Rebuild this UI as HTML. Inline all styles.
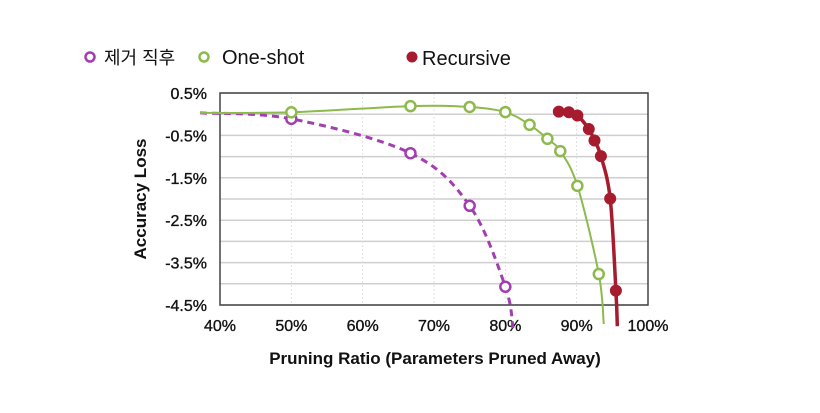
<!DOCTYPE html>
<html><head><meta charset="utf-8"><style>
body{margin:0;background:#fff;}
svg text{font-family:"Liberation Sans","Noto Sans CJK KR",sans-serif;}
</style></head><body>
<svg id="chart" width="820" height="408" viewBox="0 0 820 408" xmlns="http://www.w3.org/2000/svg">
<g id="grid"></g>
<g id="axes"></g>
<g id="series"></g>
<g id="legend">
  <circle cx="90" cy="57" r="4.5" fill="#fff" stroke="#a23fb0" stroke-width="2.5"/>
  <text x="104" y="64" font-size="18" fill="#111">제거 직후</text>
  <circle cx="204" cy="57" r="4.5" fill="#fff" stroke="#8dba4c" stroke-width="2.5"/>
  <text x="222" y="64" font-size="20" fill="#111">One-shot</text>
  <circle cx="412" cy="57" r="5.5" fill="#a61c2e"/>
  <text x="422" y="65" font-size="20" fill="#111">Recursive</text>
</g>
<text x="435" y="364" font-size="17" font-weight="bold" text-anchor="middle" fill="#111">Pruning Ratio (Parameters Pruned Away)</text>
<text transform="translate(146,199) rotate(-90)" font-size="17" font-weight="bold" text-anchor="middle" fill="#111">Accuracy Loss</text>
</svg>
<script>
const xTicks=[40,50,60,70,80,90,100];
const yTicks=[0.5,-0.5,-1.5,-2.5,-3.5,-4.5];
const beforeX=[37.2,50,66.7,75,80,81.1];
const beforeY=[0.03,-0.11,-0.92,-2.16,-4.07,-5.1];
const beforeMarks=[1,2,3,4];
const oneX=[37.2,50,66.7,75,80,83.4,85.9,87.7,90.1,93.1,93.8];
const oneY=[0.03,0.045,0.19,0.17,0.05,-0.25,-0.58,-0.87,-1.69,-3.77,-4.95];
const oneMarks=[1,2,3,4,5,6,7,8,9];
const recX=[87.5,88.9,90.1,91.7,92.5,93.4,94.7,95.5,95.7];
const recY=[0.06,0.045,-0.03,-0.35,-0.62,-0.99,-1.99,-4.16,-5.0];
const recMarks=[0,1,2,3,4,5,6,7];
const X0=220,X1=648,Y0=93,Y1=305;
const sx=v=>X0+(v-40)/60*(X1-X0);
const sy=v=>Y0+(0.5-v)/5*(Y1-Y0);
const NS="http://www.w3.org/2000/svg";
function mk(tag,attrs,parent){const e=document.createElementNS(NS,tag);for(const k in attrs)e.setAttribute(k,attrs[k]);parent.appendChild(e);return e;}
const grid=document.getElementById('grid'),axes=document.getElementById('axes'),ser=document.getElementById('series');
for(let k=0;k<=10;k++){const v=0.5-k*0.5;const l=mk('line',{x1:X0,x2:X1,y1:sy(v),y2:sy(v),stroke:'#cfcfcf','stroke-width':1.5},grid);

}
xTicks.forEach(t=>{const l=mk('line',{x1:sx(t),x2:sx(t),y1:Y0,y2:Y1,stroke:'#e0e0e0','stroke-width':1,'stroke-dasharray':'2,2'},grid);


const tx=mk('text',{x:sx(t),y:331,'font-size':16,'text-anchor':'middle',fill:'#111',stroke:'#111','stroke-width':0.35},axes);tx.textContent=t+'%';

});
yTicks.forEach(t=>{const tx=mk('text',{x:207,y:sy(t)+6,'font-size':16,'text-anchor':'end',fill:'#111',stroke:'#111','stroke-width':0.35},axes);tx.textContent=t+'%';

});
const fr=mk('rect',{x:X0,y:Y0,width:X1-X0,height:Y1-Y0,fill:'none',stroke:'#444','stroke-width':1.5},axes);


function smooth(xs,ys){const p=xs.map((x,i)=>[sx(x),sy(ys[i])]);let d='M'+p[0][0]+','+p[0][1];
for(let i=0;i<p.length-1;i++){const a=p[i-1]||p[i],b=p[i],c=p[i+1],e=p[i+2]||c;
d+=` C${b[0]+(c[0]-a[0])/6},${b[1]+(c[1]-a[1])/6} ${c[0]-(e[0]-b[0])/6},${c[1]-(e[1]-b[1])/6} ${c[0]},${c[1]}`;}return d;}
function series(name,xs,ys,marks,color,w,dash,filled,r){
const p=mk('path',{d:smooth(xs,ys),fill:'none',stroke:color,'stroke-width':w},ser);if(dash)p.setAttribute('stroke-dasharray',dash);


marks.forEach(i=>{const c=mk('circle',{cx:sx(xs[i]),cy:sy(ys[i]),r:r,fill:filled?color:'#fff',stroke:color,'stroke-width':filled?0:2.5},ser);

});}
series('before',beforeX,beforeY,beforeMarks,'#a23fb0',3,'7,5',false,5);
series('oneshot',oneX,oneY,oneMarks,'#8dba4c',2,null,false,5);
series('recursive',recX,recY,recMarks,'#a61c2e',3.5,null,true,6);
</script>
</body></html>
